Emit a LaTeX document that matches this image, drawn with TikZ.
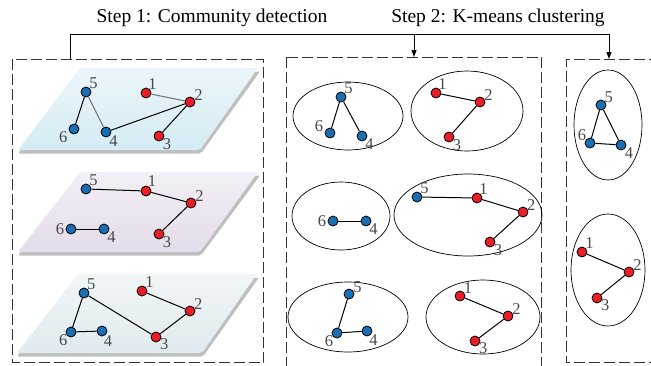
\documentclass[tikz,border=0pt]{standalone}
\usepackage{fontspec}
\setmainfont{Liberation Serif}
\usetikzlibrary{arrows.meta}
\definecolor{nodeblue}{RGB}{26,110,178}
\definecolor{nodered}{RGB}{232,30,40}
\definecolor{layerA}{RGB}{212,235,243}
\definecolor{layerB}{RGB}{228,220,234}
\definecolor{layerC}{RGB}{224,234,238}
\tikzset{
  bnode/.style={circle,draw=black,line width=0.8pt,fill=nodeblue,minimum size=10pt,inner sep=0pt},
  rnode/.style={circle,draw=black,line width=0.8pt,fill=nodered,minimum size=10pt,inner sep=0pt},
  lbl/.style={text=black!72,font=\fontsize{16.5}{17}\selectfont,inner sep=0.3pt,label distance=-1.5pt},
  link/.style={line width=1pt,black},
  softlink/.style={line width=1pt,black!55},
  stagebox/.style={dashed,dash pattern=on 11pt off 4pt,line width=0.9pt,black!80},
  groupring/.style={line width=0.7pt,black}
}
% vertex: [label options] style, name, position, label angle, label
\newcommand{\vtx}[6][]{\node[#2,label={[lbl,#1]#5:#6}] (#3) at (#4) {};}
% layer: colour, top-left, top-right, bottom-right, bottom-left
\def\layer#1(#2)(#3)(#4)(#5){%
  \fill[black!25,rounded corners=2pt] ([shift={(1,3.5)}]#2) -- ([shift={(2,3.5)}]#3) -- ([shift={(1,3.5)}]#4) -- ([shift={(0,3.5)}]#5) -- cycle;
  \shade[top color=#1!45!white,bottom color=#1,rounded corners=2pt] (#2) -- (#3) -- (#4) -- (#5) -- cycle;}

\begin{document}
\begin{tikzpicture}[x=1pt,y=-1pt]
  \useasboundingbox (0,0) rectangle (651,365);

  % step titles and arrows
  \node[font=\fontsize{19.5}{20}\selectfont] (step1) at (212,18) {Step 1: Community detection};
  \node[font=\fontsize{19.5}{20}\selectfont] (step2) at (498,18) {Step 2: K-means clustering};
  \coordinate (top1) at (70.5,59);
  \coordinate (top2) at (414,57);
  \coordinate (top3) at (609,59);
  \draw[line width=1pt] (top1) -- (70.5,34) -- (609,34);
  \draw[line width=1pt,-{Triangle[length=7pt,width=5pt]}] (414,34) -- (top2);
  \draw[line width=1pt,-{Triangle[length=7pt,width=5pt]}] (609,34) -- (top3);

  % stage frames
  \draw[stagebox] (12,59) rectangle (263.5,362.5);
  \draw[stagebox] (286.5,57) -- (541.5,57) -- (541.5,368);
  \draw[stagebox] (286.5,57) -- (286.5,368);
  \draw[stagebox] (660,59.5) -- (566,59.5) -- (566,362.5) -- (660,362.5);

  % layer 1
  \layer{layerA}(80,68)(258,68)(200,150)(18,150)
  \vtx{bnode}{a5}{86,92}{45}{5}
  \vtx{rnode}{a1}{146,93}{60}{1}
  \vtx{rnode}{a2}{190,102}{10}{2}
  \vtx[label distance=1pt]{bnode}{a6}{74,129}{200}{6}
  \vtx{bnode}{a4}{106,132}{-45}{4}
  \vtx{rnode}{a3}{159,136}{-30}{3}
  \draw[link] (a5) -- (a6);
  \draw[softlink] (a5) -- (a4);
  \draw[link] (a4) -- (a2);
  \draw[softlink] (a1) -- (a2);
  \draw[link] (a2) -- (a3);

  % layer 2
  \layer{layerB}(80,172)(258,172)(200,252)(18,252)
  \vtx{bnode}{b5}{86,189}{45}{5}
  \vtx{rnode}{b1}{146,191}{70}{1}
  \vtx{rnode}{b2}{191,203}{15}{2}
  \vtx[label distance=1pt]{bnode}{b6}{71,229}{180}{6}
  \vtx{bnode}{b4}{104,229}{-40}{4}
  \vtx{rnode}{b3}{159,234}{-30}{3}
  \draw[link] (b5) -- (b1) -- (b2) -- (b3);
  \draw[link] (b6) -- (b4);

  % layer 3
  \layer{layerC}(78,274)(257,274)(202,353)(17,353)
  \vtx{bnode}{c5}{84,293}{50}{5}
  \vtx{rnode}{c1}{142,291}{45}{1}
  \vtx{rnode}{c2}{190,311}{20}{2}
  \vtx{bnode}{c6}{71,332}{215}{6}
  \vtx{bnode}{c4}{102,331}{-70}{4}
  \vtx{rnode}{c3}{156,337}{-20}{3}
  \draw[link] (c4) -- (c6) -- (c5) -- (c3) -- (c2) -- (c1);

  % communities per layer
  \draw[groupring] (348,116) ellipse (55 and 34);
  \vtx{bnode}{d5}{341,97}{40}{5}
  \vtx[label distance=1pt]{bnode}{d6}{330,133}{170}{6}
  \vtx{bnode}{d4}{362,136}{-40}{4}
  \draw[link] (d6) -- (d5) -- (d4);

  \draw[groupring] (467,111) ellipse (56 and 40);
  \vtx{rnode}{e1}{436,93}{60}{1}
  \vtx{rnode}{e2}{480,102}{15}{2}
  \vtx{rnode}{e3}{449,137}{-30}{3}
  \draw[link] (e1) -- (e2) -- (e3);

  \draw[groupring] (341,216) ellipse (49 and 34);
  \vtx[label distance=1pt]{bnode}{f6}{333,221}{180}{6}
  \vtx{bnode}{f4}{366,221}{-40}{4}
  \draw[link] (f6) -- (f4);

  \draw[groupring] (468,215) ellipse (74 and 41);
  \vtx{bnode}{g5}{417,197}{40}{5}
  \vtx{rnode}{g1}{477,198}{60}{1}
  \vtx{rnode}{g2}{523,212}{20}{2}
  \vtx{rnode}{g3}{490,242}{-30}{3}
  \draw[link] (g5) -- (g1) -- (g2) -- (g3);

  \draw[groupring] (348,317) ellipse (60 and 35);
  \vtx{bnode}{h5}{349,294}{10}{5}
  \vtx{bnode}{h6}{337,333}{210}{6}
  \vtx{bnode}{h4}{367,331}{-60}{4}
  \draw[link] (h5) -- (h6) -- (h4);

  \draw[groupring] (483,317) ellipse (57 and 37);
  \vtx{rnode}{k1}{460,296}{30}{1}
  \vtx{rnode}{k2}{508,316}{10}{2}
  \vtx{rnode}{k3}{475,341}{-20}{3}
  \draw[link] (k1) -- (k2) -- (k3);

  % final clusters
  \draw[groupring] (608,125) ellipse (34 and 55);
  \vtx{bnode}{m5}{601,105}{35}{5}
  \vtx{bnode}{m6}{590,143}{150}{6}
  \vtx{bnode}{m4}{621,145}{-30}{4}
  \draw[link] (m5) -- (m6) -- (m4) -- (m5);

  \draw[groupring] (608,270) ellipse (37 and 56);
  \vtx{rnode}{n1}{582,252}{40}{1}
  \vtx{rnode}{n2}{629,272}{15}{2}
  \vtx{rnode}{n3}{597,298}{-20}{3}
  \draw[link] (n1) -- (n2) -- (n3);
\end{tikzpicture}
\end{document}
